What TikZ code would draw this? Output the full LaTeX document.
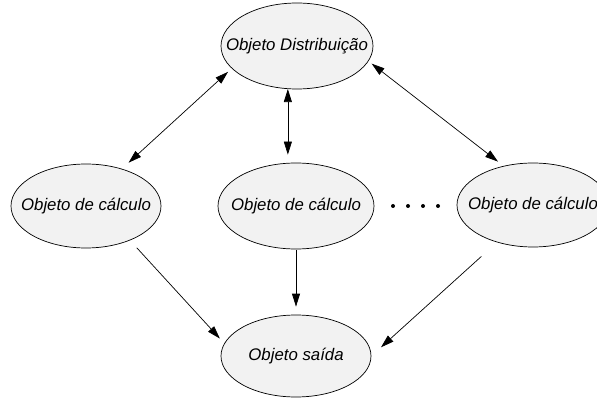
\documentclass[tikz,border=0pt]{standalone}
\usepackage{fontspec}
\setmainfont{Liberation Sans}
\usetikzlibrary{shapes.geometric,arrows.meta}
\definecolor{objfill}{RGB}{242,242,242}
\tikzset{
  obj/.style={ellipse, draw=black, line width=0.7pt, fill=objfill, inner sep=0pt,
    font=\fontsize{16.8}{19}\selectfont\itshape},
  link/.style={line width=0.7pt, -{Triangle[length=13pt,width=8pt]}},
  biLink/.style={line width=0.7pt, {Triangle[length=13pt,width=8pt]}-{Triangle[length=13pt,width=8pt]}},
  dotmark/.style={circle, fill=black, inner sep=0pt, minimum size=4pt}
}
\newcommand{\objtext}[1]{\makebox[0pt]{#1}}
\begin{document}
\begin{tikzpicture}[x=1pt, y=-1pt]
  \useasboundingbox (0,0) rectangle (597,398);

  % objects
  \node[obj, minimum width=152pt, minimum height=86pt] (T) at (297,46) {\objtext{Objeto Distribuição}};
  \node[obj, minimum width=150pt, minimum height=84pt] (L) at (86,206) {\objtext{Objeto de cálculo}};
  \node[obj, minimum width=156pt, minimum height=86pt] (M) at (296,206) {\objtext{Objeto de cálculo}};
  \node[obj, minimum width=152pt, minimum height=84pt] (R) at (533,205) {\objtext{Objeto de cálculo}};
  \node[obj, minimum width=150pt, minimum height=82pt] (B) at (296,356) {\objtext{Objeto saída}};

  % ellipsis between the calculation objects
  \node[dotmark] (d1) at (393,206) {};
  \node[dotmark] (d2) at (408,206) {};
  \node[dotmark] (d3) at (423,206) {};
  \node[dotmark] (d4) at (438,206) {};

  % distribution <-> calculation
  \draw[biLink, shorten <=9pt, shorten >=5pt] (L.46) -- (T.199.5);
  \draw[biLink, shorten <=0pt, shorten >=8pt] (T.258) -- (T.258 |- M.north);
  \draw[biLink, shorten <=4pt, shorten >=7pt] (T.348.6) -- (R.127.4);

  % calculation -> output
  \draw[link, shorten <=10pt, shorten >=6.5pt] (L.322.8) -- (B.170.3);
  \draw[link, shorten <=1pt, shorten >=8pt] (M.south) -- (B.north);
  \draw[link, shorten <=21pt, shorten >=13pt] (R.226) -- (B.0);
\end{tikzpicture}
\end{document}
